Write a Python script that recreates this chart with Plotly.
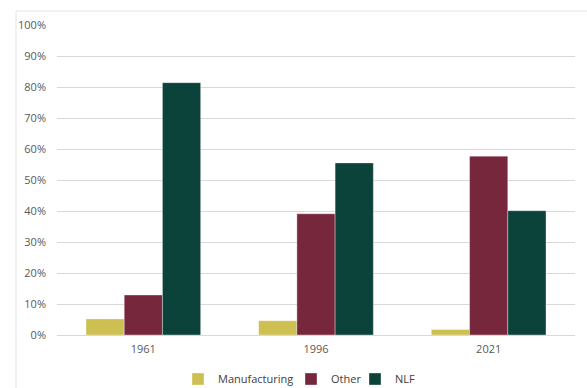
import plotly.graph_objects as go

# Share of population by activity, census years
years = ["1961", "1996", "2021"]
manufacturing = [5.2, 4.6, 1.8]
other = [12.9, 39.1, 57.7]
nlf = [81.4, 55.5, 40.1]

series_names = ["Manufacturing", "Other", "NLF"]
series_values = [manufacturing, other, nlf]
series_colors = ["#CDBF52", "#76273B", "#0B4239"]

y_ticks = list(range(0, 101, 10))
y_tick_labels = [f"{v}%" for v in y_ticks]

W, H = 587, 388
ml, mr, mt, mb = 57, 12, 25, 53
pw, ph = W - ml - mr, H - mt - mb

# each series gets its own one-entry legend so the entries can sit close together
legend_ids = ["legend", "legend2", "legend3"]
legend_left_px = [178, 291, 355]

fig = go.Figure()
for name, vals, color, lid in zip(series_names, series_values, series_colors, legend_ids):
    fig.add_trace(go.Bar(
        x=years, y=vals, name=name, legend=lid,
        marker=dict(color=color, line=dict(color="rgba(255,255,255,0.6)", width=0.6)),
    ))

legend_style = dict(orientation="h", yanchor="middle", xanchor="left",
                    y=-44 / ph, font=dict(size=11, color="#404040"),
                    itemwidth=30, bgcolor="rgba(0,0,0,0)")

layout_legends = {}
for lid, px in zip(legend_ids, legend_left_px):
    layout_legends[lid] = dict(legend_style, x=(px - ml) / pw)

fig.update_layout(
    width=W, height=H,
    margin=dict(l=ml, r=mr, t=mt, b=mb, autoexpand=False),
    paper_bgcolor="white", plot_bgcolor="white",
    barmode="group", bargap=0.336, bargroupgap=0,
    font=dict(family="Open Sans, Liberation Sans, sans-serif", size=11, color="#595959"),
    showlegend=True,
    xaxis=dict(showgrid=False, showline=True, linecolor="#d9d9d9", linewidth=1.2,
               ticks="", ticklabelstandoff=4, tickfont=dict(size=11, color="#595959")),
    yaxis=dict(range=[0, 100], tickvals=y_ticks, ticktext=y_tick_labels,
               showgrid=True, gridcolor="#d9d9d9", gridwidth=1.2, zeroline=False,
               showline=False, ticks="", ticklabelstandoff=10,
               tickfont=dict(size=11, color="#595959")),
    **layout_legends,
)

# Light frame around the chart area (top and left edges)
fig.add_shape(type="line", xref="paper", yref="paper",
              x0=(16 - ml) / pw, x1=1.1, y0=(H - mb - 11) / ph, y1=(H - mb - 11) / ph,
              line=dict(color="#e3e3e3", width=1))
fig.add_shape(type="line", xref="paper", yref="paper",
              x0=(16 - ml) / pw, x1=(16 - ml) / pw, y0=(H - mb - 11) / ph, y1=-0.3,
              line=dict(color="#e3e3e3", width=1))

fig.write_html("out.html")
